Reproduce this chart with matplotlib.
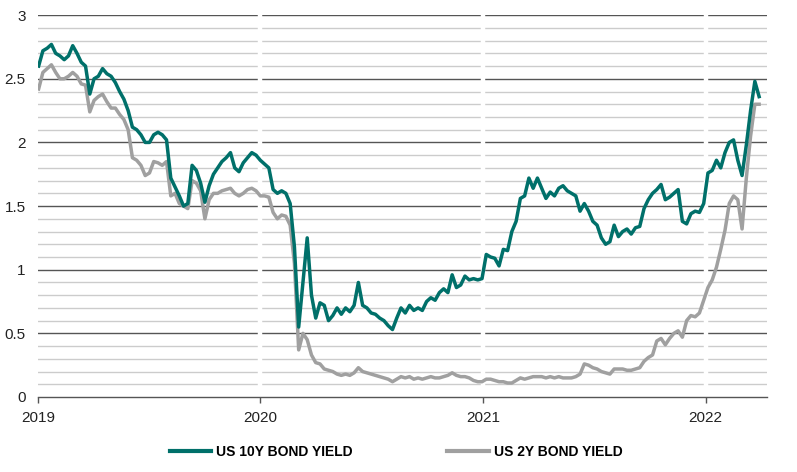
import matplotlib
matplotlib.use("Agg")
import matplotlib.pyplot as plt
import numpy as np
import pandas as pd

# weekly observations, starting 2 Jan 2019
start_date = "2019-01-02"

us10y = [2.60, 2.72, 2.74, 2.77, 2.70, 2.68, 2.65, 2.68, 2.76, 2.70,
         2.63, 2.60, 2.38, 2.50, 2.52, 2.58, 2.54, 2.52, 2.47, 2.40,
         2.34, 2.25, 2.12, 2.10, 2.06, 2.00, 2.00, 2.06, 2.08, 2.06,
         2.02, 1.72, 1.65, 1.58, 1.50, 1.52, 1.82, 1.78, 1.68, 1.53,
         1.66, 1.75, 1.80, 1.85, 1.88, 1.92, 1.80, 1.77, 1.84, 1.88,
         1.92, 1.90, 1.86, 1.83, 1.80, 1.63, 1.60, 1.62, 1.60, 1.52,
         1.18, 0.55, 0.90, 1.25, 0.80, 0.62, 0.74, 0.72, 0.60, 0.64,
         0.70, 0.65, 0.70, 0.67, 0.72, 0.90, 0.72, 0.70, 0.66, 0.65,
         0.62, 0.60, 0.56, 0.53, 0.62, 0.70, 0.66, 0.72, 0.68, 0.70,
         0.68, 0.75, 0.78, 0.76, 0.82, 0.85, 0.82, 0.96, 0.86, 0.88,
         0.95, 0.92, 0.93, 0.92, 0.93, 1.12, 1.10, 1.09, 1.03, 1.16,
         1.15, 1.30, 1.38, 1.56, 1.58, 1.72, 1.64, 1.72, 1.64, 1.56,
         1.61, 1.58, 1.64, 1.66, 1.62, 1.60, 1.58, 1.46, 1.52, 1.46,
         1.38, 1.35, 1.25, 1.20, 1.22, 1.35, 1.26, 1.30, 1.32, 1.28,
         1.33, 1.34, 1.48, 1.55, 1.60, 1.63, 1.67, 1.55, 1.57, 1.60,
         1.63, 1.38, 1.36, 1.44, 1.46, 1.45, 1.52, 1.76, 1.78, 1.86,
         1.80, 1.92, 2.00, 2.02, 1.86, 1.74, 1.98, 2.25, 2.48, 2.36]

us2y = [2.42, 2.55, 2.58, 2.61, 2.55, 2.50, 2.50, 2.52, 2.55, 2.52,
        2.46, 2.45, 2.24, 2.33, 2.36, 2.38, 2.32, 2.27, 2.27, 2.22,
        2.18, 2.10, 1.88, 1.86, 1.82, 1.74, 1.76, 1.85, 1.84, 1.82,
        1.85, 1.58, 1.60, 1.52, 1.50, 1.48, 1.70, 1.68, 1.62, 1.40,
        1.55, 1.60, 1.60, 1.62, 1.63, 1.64, 1.60, 1.58, 1.60, 1.63,
        1.64, 1.62, 1.58, 1.58, 1.57, 1.45, 1.40, 1.43, 1.42, 1.35,
        1.05, 0.37, 0.50, 0.45, 0.33, 0.27, 0.26, 0.22, 0.21, 0.20,
        0.18, 0.17, 0.18, 0.17, 0.19, 0.23, 0.20, 0.19, 0.18, 0.17,
        0.16, 0.15, 0.14, 0.12, 0.14, 0.16, 0.15, 0.16, 0.14, 0.15,
        0.14, 0.15, 0.16, 0.15, 0.15, 0.16, 0.17, 0.19, 0.17, 0.16,
        0.16, 0.15, 0.13, 0.12, 0.12, 0.14, 0.14, 0.13, 0.12, 0.12,
        0.11, 0.11, 0.13, 0.15, 0.14, 0.15, 0.16, 0.16, 0.16, 0.15,
        0.16, 0.15, 0.16, 0.15, 0.15, 0.15, 0.16, 0.18, 0.26, 0.25,
        0.23, 0.22, 0.20, 0.19, 0.18, 0.22, 0.22, 0.22, 0.21, 0.21,
        0.22, 0.23, 0.28, 0.31, 0.33, 0.44, 0.46, 0.41, 0.46, 0.50,
        0.52, 0.47, 0.60, 0.64, 0.63, 0.66, 0.76, 0.86, 0.92, 1.02,
        1.16, 1.31, 1.52, 1.58, 1.55, 1.32, 1.72, 2.05, 2.30, 2.30]

year_ticks = ["2019", "2020", "2021", "2022"]
y_ticks = [0, 0.5, 1, 1.5, 2, 2.5, 3]
y_tick_labels = ["0", "0.5", "1", "1.5", "2", "2.5", "3"]

dates = pd.date_range(start_date, periods=len(us10y), freq="7D")

green = "#00706a"
grey = "#a0a0a0"

plt.rcParams["font.family"] = ["Liberation Sans", "DejaVu Sans"]

fig = plt.figure(figsize=(7.97, 4.72), dpi=100)
ax = fig.add_axes([0.0477, 0.1589, 0.9147, 0.809])

# grid: light every 0.1, dark every 0.5
for v in np.arange(0.1, 3.0, 0.1):
    if abs(v * 2 - round(v * 2)) < 1e-6:
        continue
    ax.axhline(v, color="#cccccc", lw=1.0, zorder=1)
for v in y_ticks[1:]:
    ax.axhline(v, color="#555555", lw=1.0, zorder=1)

# white breaks at the year boundaries
for yr in year_ticks[1:]:
    ax.axvline(pd.Timestamp(yr + "-01-01"), ymin=0.004, ymax=0.996,
               color="white", lw=3.2, zorder=2)

ax.plot(dates, us2y, color=grey, lw=2.5, zorder=3, label="US 2Y BOND YIELD")
ax.plot(dates, us10y, color=green, lw=2.5, zorder=4, label="US 10Y BOND YIELD")

ax.set_ylim(0, 3)
ax.set_xlim(pd.Timestamp("2019-01-01"), pd.Timestamp("2022-04-12"))
ax.set_yticks(y_ticks)
ax.set_yticklabels(y_tick_labels)
ax.set_xticks([pd.Timestamp(y + "-01-01") for y in year_ticks])
ax.set_xticklabels(year_ticks)

for s in ["top", "right", "left"]:
    ax.spines[s].set_visible(False)
ax.spines["bottom"].set_color("#555555")
ax.spines["bottom"].set_linewidth(1.0)
ax.spines["bottom"].set_zorder(5)

ax.tick_params(axis="y", length=0, pad=9, labelsize=11, labelcolor="#222222")
ax.tick_params(axis="x", length=4, width=1, color="#555555", pad=6,
               labelsize=11, labelcolor="#222222")

handles, labels = ax.get_legend_handles_labels()
leg = fig.legend(handles[::-1], labels[::-1], loc="center",
                 bbox_to_anchor=(0.497, 0.042), ncol=2, frameon=False,
                 handlelength=3.0, handletextpad=0.36, columnspacing=6.8,
                 prop={"weight": "bold", "size": 10})
for line in leg.get_lines():
    line.set_linewidth(3)

fig.savefig("out.png", dpi=100)
